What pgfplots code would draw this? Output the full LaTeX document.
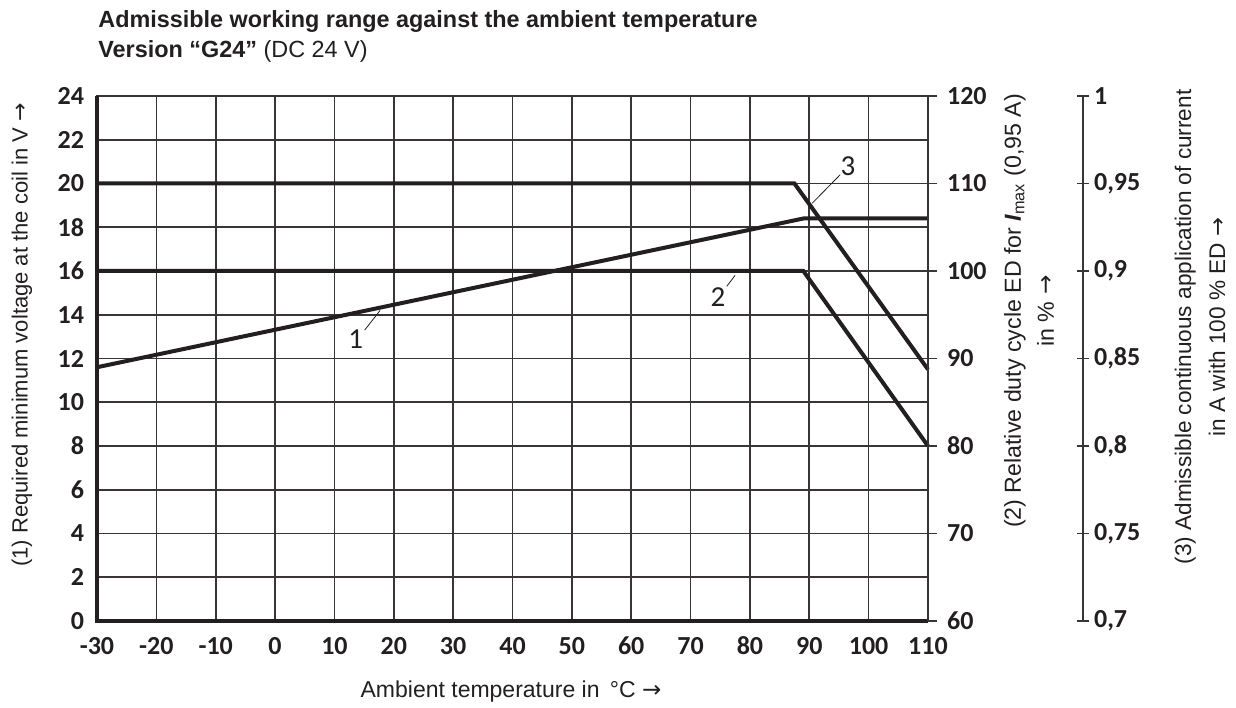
\documentclass[border=0pt]{standalone}
\usepackage{fontspec}
\setmainfont{Liberation Sans}
\newfontfamily\tickfont{Carlito}
\newfontfamily\arrowfont{DejaVu Sans}
\newcommand{\arr}{{\arrowfont →}}
\usepackage{pgfplots}
\pgfplotsset{compat=1.18}
\definecolor{ink}{HTML}{231F20}
\begin{document}
\begin{tikzpicture}[x=1pt,y=1pt]
\useasboundingbox (-48.5,-43) rectangle (569.5,310.5);
% main axis
\begin{axis}[
  scale only axis, width=415.5pt, height=262.5pt,
  xmin=-30, xmax=110, ymin=0, ymax=24,
  xtick={-30,-20,...,110},
  xticklabels={-30,-20,-10,0,10,20,30,40,50,60,70,80,90,100,110},
  ytick={0,2,...,24},
  yticklabels={0,2,4,6,8,10,12,14,16,18,20,22,24},
  grid=major,
  major grid style={line width=0.8pt, color=ink!90},
  axis line style={line width=0.8pt, color=ink!90},
  major tick length=0pt,
  tick label style={font=\tickfont\bfseries\fontsize{13}{15}\selectfont, text=ink},
  xticklabel style={yshift=-4pt, text height=9pt, text depth=0pt},
  yticklabel style={xshift=-3pt},
  clip=false,
]
\addplot[ink, line width=2pt] coordinates {(-30,11.6) (89,18.4) (110,18.4)};
\addplot[ink, line width=2pt] coordinates {(-30,16) (89,16) (110,8)};
\addplot[ink, line width=2pt] coordinates {(-30,20) (87.5,20) (110,11.5)};
\draw[ink, line width=1.6pt] (axis cs:-30,24) -- (axis cs:-30,0) -- (axis cs:110,0);
% curve labels
\node[font=\tickfont\fontsize{14.5}{16}\selectfont, text=ink] at (axis cs:13.6,12.9) {1};
\draw[ink, line width=0.4pt] (axis cs:15.1,13.3) -- (axis cs:17.7,14.2);
\node[font=\tickfont\fontsize{14.5}{16}\selectfont, text=ink] at (axis cs:74.6,14.8) {2};
\draw[ink, line width=0.4pt] (axis cs:76.1,15.3) -- (axis cs:77.5,15.8);
\node[font=\tickfont\fontsize{14.5}{16}\selectfont, text=ink] at (axis cs:96.5,20.8) {3};
\draw[ink, line width=0.4pt] (axis cs:95.2,20.4) -- (axis cs:90.5,19.1);
\end{axis}
% second axis: relative duty cycle
\begin{axis}[
  scale only axis, width=415.5pt, height=262.5pt,
  xmin=-30, xmax=110, ymin=60, ymax=120,
  hide x axis,
  axis y line*=right,
  ytick={60,70,...,120},
  yticklabels={60,70,80,90,100,110,120},
  axis line style={line width=0.8pt, color=ink!90},
  tick align=outside,
  major tick length=4.5pt,
  tick style={line width=0.8pt, color=ink!90},
  tick label style={font=\tickfont\bfseries\fontsize{13}{15}\selectfont, text=ink},
  yticklabel style={xshift=1.5pt},
]
\end{axis}
% third axis: admissible current
\begin{axis}[
  scale only axis, width=493pt, height=262.5pt,
  xmin=0, xmax=1, ymin=0.7, ymax=1,
  hide x axis,
  axis y line*=right,
  ytick={0.7,0.75,0.8,0.85,0.9,0.95,1},
  yticklabels={{0,7},{0,75},{0,8},{0,85},{0,9},{0,95},1},
  axis line style={line width=0.8pt, color=ink!90},
  tick align=center,
  major tick length=6pt,
  tick style={line width=0.8pt, color=ink!90},
  tick label style={font=\tickfont\bfseries\fontsize{13}{15}\selectfont, text=ink},
  yticklabel style={xshift=-1pt},
]
\end{axis}
% titles and labels
\node[anchor=base west, inner sep=0pt, font=\bfseries\fontsize{11.7}{13}\selectfont, text=ink] at (0.5,296.5) {Admissible working range against the ambient temperature};
\node[anchor=base west, inner sep=0pt, font=\fontsize{11.7}{13}\selectfont, text=ink] at (0.5,281.5) {\textbf{Version “G24”} (DC 24 V)};
\node[rotate=90, font=\fontsize{11}{12}\selectfont, text=ink] at (-37.5,143) {(1) Required minimum voltage at the coil in V \arr};
\node[font=\fontsize{11.5}{12}\selectfont, text=ink] at (207,-35.5) {Ambient temperature in \,°C \arr};
\node[rotate=90, align=center, font=\fontsize{11.6}{16.5}\selectfont, text=ink] at (466,155) {(2) Relative duty cycle ED for {\bfseries\itshape I}\textsubscript{max} (0,95 A)\\in \% \arr};
\node[rotate=90, align=center, font=\fontsize{11.3}{17}\selectfont, text=ink] at (551.5,147) {(3) Admissible continuous application of current\\in A with 100 \% ED \arr};
\end{tikzpicture}
\end{document}
